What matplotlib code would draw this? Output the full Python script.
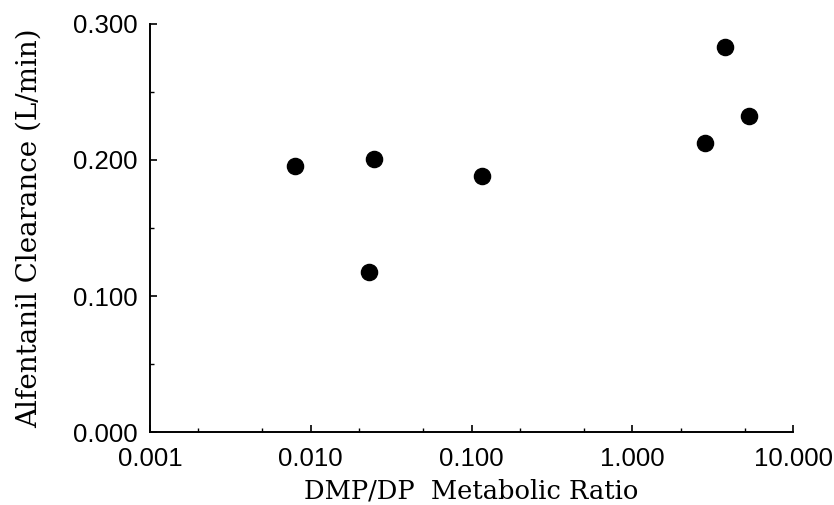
import matplotlib
matplotlib.use("Agg")
import matplotlib.pyplot as plt
from matplotlib.ticker import LogLocator, FixedLocator, FixedFormatter, MultipleLocator

ratio = [0.0080, 0.0247, 0.116, 0.0229, 2.85, 3.78, 5.34]
clearance = [0.1956, 0.2005, 0.188, 0.118, 0.2127, 0.2833, 0.2324]

xticks = [0.001, 0.01, 0.1, 1.0, 10.0]
xticklabels = ["0.001", "0.010", "0.100", "1.000", "10.000"]
yticks = [0.0, 0.1, 0.2, 0.3]
yticklabels = ["0.000", "0.100", "0.200", "0.300"]

fig = plt.figure(figsize=(8.34, 5.05), dpi=100)
ax = fig.add_axes([150/834, 73/505, 643/834, 408/505])

ax.scatter(ratio, clearance, s=135, color="black", zorder=3, clip_on=False)

ax.set_xscale("log")
ax.set_xlim(0.001, 10.0)
ax.set_ylim(0.0, 0.3)

ax.xaxis.set_major_locator(FixedLocator(xticks))
ax.xaxis.set_major_formatter(FixedFormatter(xticklabels))
ax.xaxis.set_minor_locator(LogLocator(base=10, subs=(2.0, 5.0)))
ax.xaxis.set_minor_formatter(FixedFormatter([]))
ax.yaxis.set_major_locator(FixedLocator(yticks))
ax.yaxis.set_major_formatter(FixedFormatter(yticklabels))
ax.yaxis.set_minor_locator(MultipleLocator(0.05))

for s in ("top", "right"):
    ax.spines[s].set_visible(False)
for s in ("left", "bottom"):
    ax.spines[s].set_linewidth(1.4)

ax.tick_params(which="major", direction="in", length=5, width=1.2)
ax.tick_params(which="minor", direction="in", length=3, width=1.0)
ax.tick_params(axis="x", which="major", pad=11)
ax.tick_params(axis="y", which="major", pad=9)

for lab in ax.get_xticklabels():
    lab.set_fontfamily("Liberation Sans")
    lab.set_fontsize(18.5)
for lab in ax.get_yticklabels():
    lab.set_fontfamily("Liberation Sans")
    lab.set_fontsize(18.5)

ax.set_xlabel("DMP/DP  Metabolic Ratio", fontfamily="DejaVu Serif", fontsize=18.5, labelpad=5)
ax.set_ylabel("Alfentanil Clearance (L/min)", fontfamily="DejaVu Serif", fontsize=20, labelpad=22)

fig.savefig("out.png", dpi=100)
